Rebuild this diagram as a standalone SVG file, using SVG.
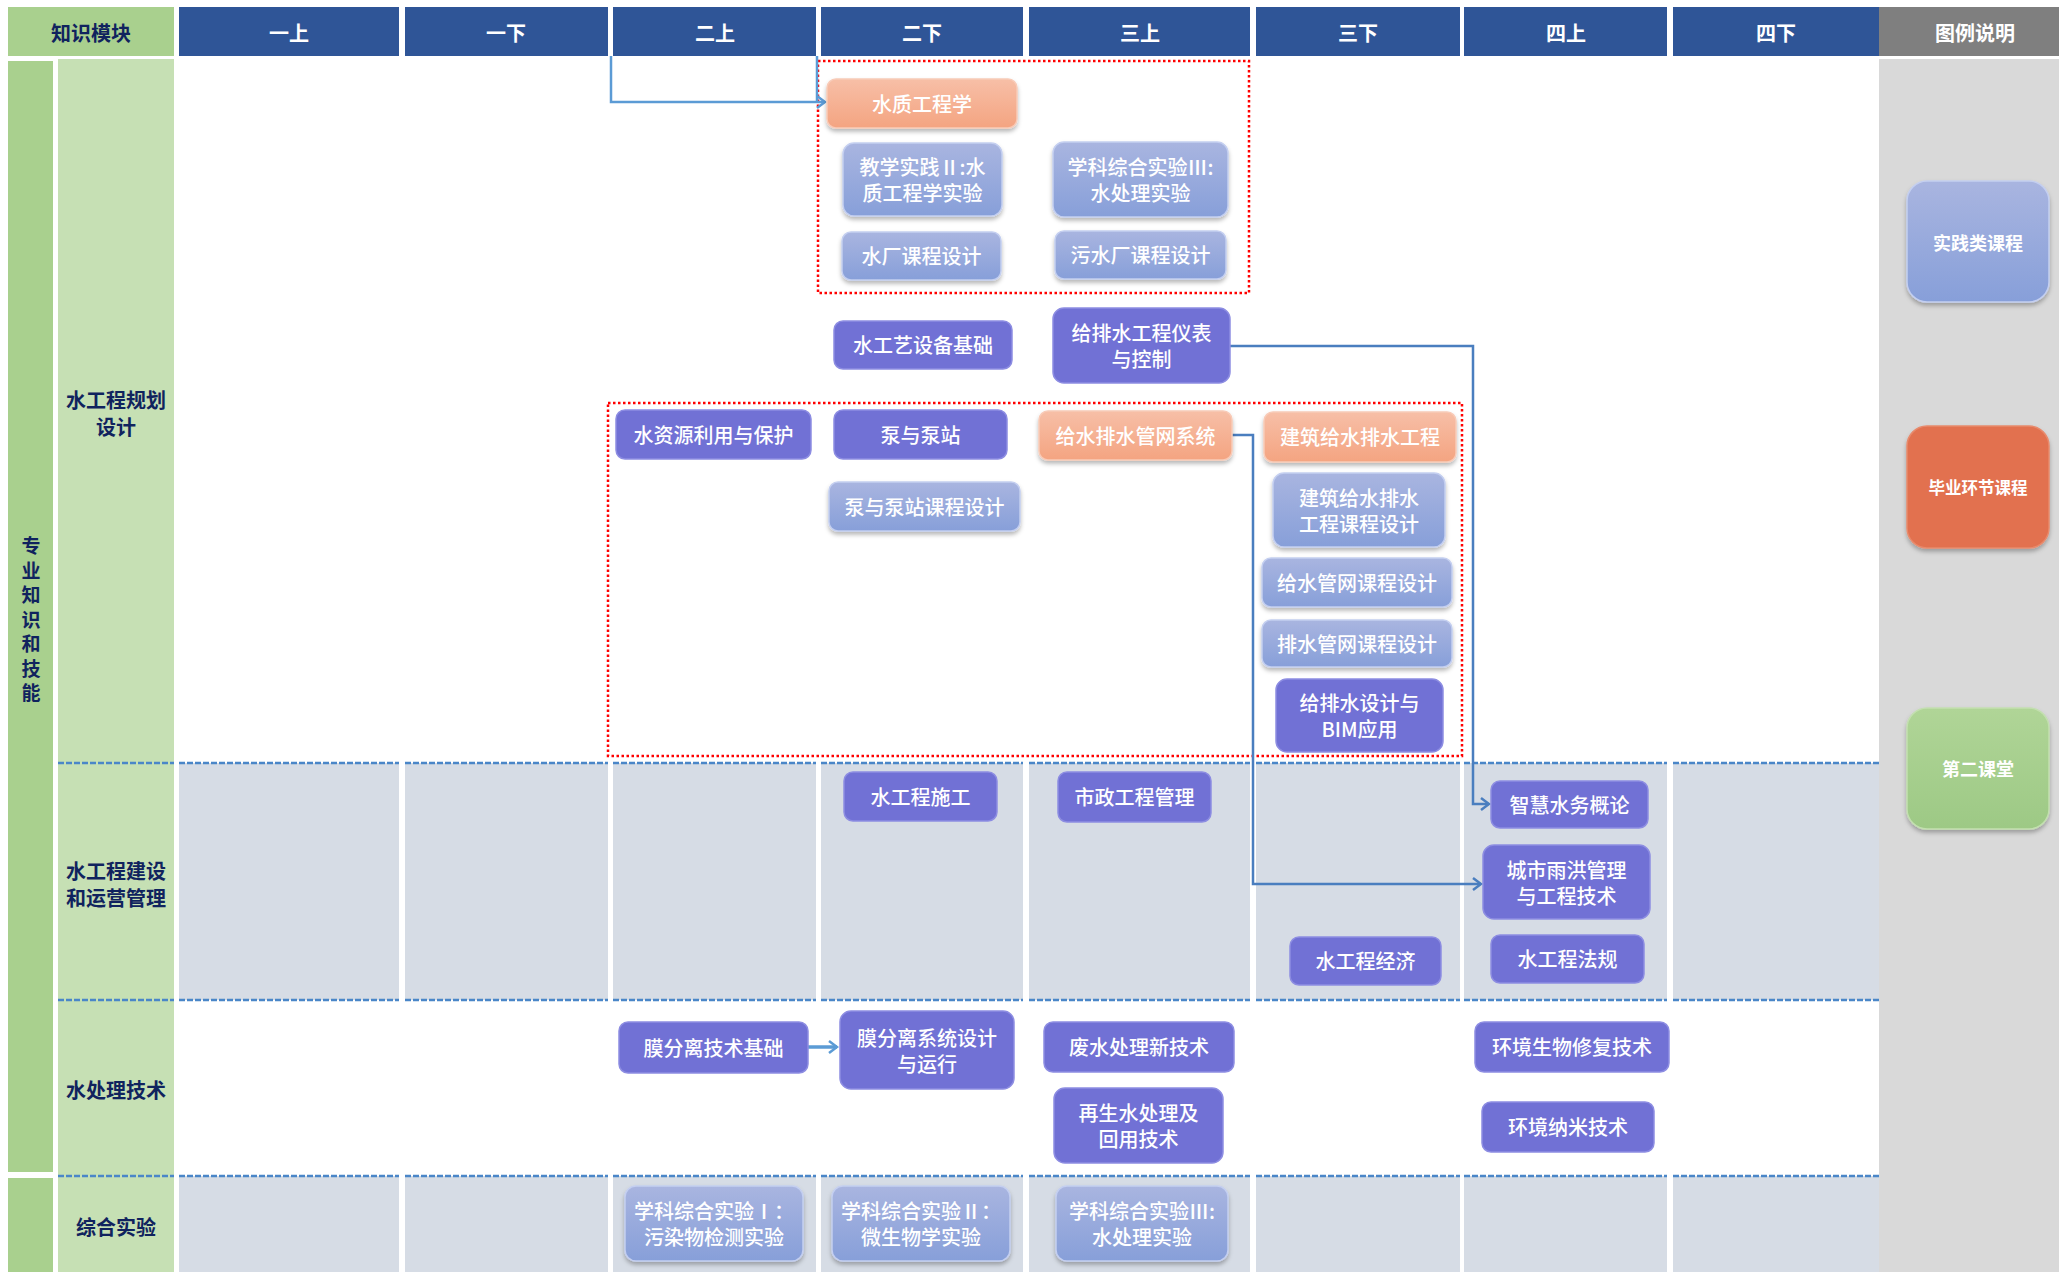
<svg xmlns="http://www.w3.org/2000/svg" width="2059" height="1272" viewBox="0 0 2059 1272">
<defs>
<linearGradient id="gl" x1="0" y1="0" x2="0" y2="1"><stop offset="0" stop-color="#a9b5e0"/><stop offset="1" stop-color="#879fd9"/></linearGradient>
<linearGradient id="gs" x1="0" y1="0" x2="0" y2="1"><stop offset="0" stop-color="#f7bfa7"/><stop offset="1" stop-color="#f4a481"/></linearGradient>
<linearGradient id="gg" x1="0" y1="0" x2="0" y2="1"><stop offset="0" stop-color="#b0d597"/><stop offset="1" stop-color="#9dc985"/></linearGradient>
<filter id="sh" x="-10%" y="-10%" width="120%" height="130%"><feDropShadow dx="0" dy="3" stdDeviation="2" flood-color="#000" flood-opacity="0.28"/></filter>
<marker id="a1" markerWidth="12" markerHeight="14" refX="10" refY="7" orient="auto" markerUnits="userSpaceOnUse"><path d="M2,1 L10,7 L2,13" fill="none" stroke="#5b9bd5" stroke-width="2.5"/></marker>
<marker id="a2" markerWidth="12" markerHeight="14" refX="10" refY="7" orient="auto" markerUnits="userSpaceOnUse"><path d="M2,1 L10,7 L2,13" fill="none" stroke="#4a7ebf" stroke-width="2.5"/></marker>
</defs>
<style>
text{font-family:"Noto Sans CJK SC","Noto Sans",sans-serif;text-anchor:middle;dominant-baseline:central}
.hd{fill:#2f5597}
.ht{font-size:20px;font-weight:bold;fill:#fff}
.lt{font-size:20px;font-weight:bold;fill:#10235e}
.gc{fill:#d6dce5}
.dl{stroke:#4a86c8;stroke-width:2.5;stroke-dasharray:6 2;fill:none}
.rb{fill:none;stroke:#ff0000;stroke-width:2.5;stroke-dasharray:2.5 2.5}
.node text{font-size:20px;font-weight:500;fill:#fff}
.p rect{fill:#7171d5;stroke:#8d8de2;stroke-width:1.5}
.l rect{fill:url(#gl);stroke:#c4cff0;stroke-width:1.5;filter:url(#sh)}
.s rect{fill:url(#gs);stroke:#f8cbb8;stroke-width:1.5;filter:url(#sh)}
.lg text{font-size:18px;font-weight:bold;fill:#fff}
.c1{fill:none;stroke:#5b9bd5;stroke-width:2.5}
.c2{fill:none;stroke:#4a7ebf;stroke-width:2.5}
</style>
<rect width="2059" height="1272" fill="#fff"/>
<g id="grid">
<rect x="8" y="7" width="166" height="49" fill="#a9d08e"/>
<text class="lt" x="91" y="32">知识模块</text>
<rect class="hd" x="179" y="7" width="220" height="49"/><text class="ht" x="289" y="32">一上</text>
<rect class="hd" x="405" y="7" width="203" height="49"/><text class="ht" x="506" y="32">一下</text>
<rect class="hd" x="613" y="7" width="203" height="49"/><text class="ht" x="715" y="32">二上</text>
<rect class="hd" x="821" y="7" width="202" height="49"/><text class="ht" x="922" y="32">二下</text>
<rect class="hd" x="1029" y="7" width="221" height="49"/><text class="ht" x="1140" y="32">三上</text>
<rect class="hd" x="1256" y="7" width="204" height="49"/><text class="ht" x="1358" y="32">三下</text>
<rect class="hd" x="1464" y="7" width="203" height="49"/><text class="ht" x="1566" y="32">四上</text>
<rect class="hd" x="1673" y="7" width="206" height="49"/><text class="ht" x="1776" y="32">四下</text>
<rect x="1879" y="7" width="180" height="49" fill="#7f7f7f"/><text class="ht" x="1975" y="32">图例说明</text>
<rect x="8" y="61" width="45" height="1111" fill="#a9d08e"/>
<rect x="8" y="1178" width="45" height="94" fill="#a9d08e"/>
<rect x="58" y="59" width="116" height="1213" fill="#c6e0b4"/>
<rect x="1879" y="59" width="180" height="1213" fill="#d9d9d9"/>
<rect class="gc" x="179" y="763" width="220" height="237"/><rect class="gc" x="405" y="763" width="203" height="237"/><rect class="gc" x="613" y="763" width="203" height="237"/><rect class="gc" x="821" y="763" width="202" height="237"/><rect class="gc" x="1029" y="763" width="221" height="237"/><rect class="gc" x="1256" y="763" width="204" height="237"/><rect class="gc" x="1464" y="763" width="203" height="237"/><rect class="gc" x="1673" y="763" width="206" height="237"/>
<rect class="gc" x="179" y="1176" width="220" height="96"/><rect class="gc" x="405" y="1176" width="203" height="96"/><rect class="gc" x="613" y="1176" width="203" height="96"/><rect class="gc" x="821" y="1176" width="202" height="96"/><rect class="gc" x="1029" y="1176" width="221" height="96"/><rect class="gc" x="1256" y="1176" width="204" height="96"/><rect class="gc" x="1464" y="1176" width="203" height="96"/><rect class="gc" x="1673" y="1176" width="206" height="96"/>
<path class="dl" d="M58,763H174M179,763H399M405,763H608M613,763H816M821,763H1023M1029,763H1250M1256,763H1460M1464,763H1667M1673,763H1879"/>
<path class="dl" d="M58,1000H174M179,1000H399M405,1000H608M613,1000H816M821,1000H1023M1029,1000H1250M1256,1000H1460M1464,1000H1667M1673,1000H1879"/>
<path class="dl" d="M58,1176H174M179,1176H399M405,1176H608M613,1176H816M821,1176H1023M1029,1176H1250M1256,1176H1460M1464,1176H1667M1673,1176H1879"/>
<text class="lt" style="font-size:19px"><tspan x="31" y="544">专</tspan><tspan x="31" y="569">业</tspan><tspan x="31" y="593">知</tspan><tspan x="31" y="618">识</tspan><tspan x="31" y="642">和</tspan><tspan x="31" y="667">技</tspan><tspan x="31" y="691">能</tspan></text>
<text class="lt"><tspan x="116" y="399">水工程规划</tspan><tspan x="116" y="426">设计</tspan></text>
<text class="lt"><tspan x="116" y="870">水工程建设</tspan><tspan x="116" y="897">和运营管理</tspan></text>
<text class="lt" x="116" y="1089">水处理技术</text>
<text class="lt" x="116" y="1226">综合实验</text>
<rect class="rb" x="818" y="61" width="431" height="232"/>
<rect class="rb" x="608" y="403" width="854" height="353"/>
</g>
<g id="connectors">
<path class="c1" d="M611,56V102H825" marker-end="url(#a1)"/>
<path class="c1" d="M817,56V102"/>
<path class="c2" d="M1230,346H1473V804H1489" marker-end="url(#a2)"/>
<path class="c2" d="M1232,435H1253V884H1481" marker-end="url(#a2)"/>
<path class="c1" style="stroke-width:3.5" d="M808,1047H837" marker-end="url(#a1)"/>
</g>
<g id="n1" class="node s"><rect x="827" y="79" width="190" height="49" rx="9"/><text x="922" y="103">水质工程学</text></g>
<g id="n2" class="node l"><rect x="843" y="143" width="159" height="73" rx="11"/><text><tspan x="922.5" y="166">教学实践Ⅱ:水</tspan><tspan x="922.5" y="192">质工程学实验</tspan></text></g>
<g id="n3" class="node l"><rect x="1053" y="142" width="175" height="75" rx="11"/><text><tspan x="1140.5" y="166">学科综合实验Ⅲ:</tspan><tspan x="1140.5" y="192">水处理实验</tspan></text></g>
<g id="n4" class="node l"><rect x="842" y="232" width="159" height="48" rx="9"/><text x="921.5" y="255.5">水厂课程设计</text></g>
<g id="n5" class="node l"><rect x="1055" y="231" width="171" height="48" rx="9"/><text x="1140.5" y="254.5">污水厂课程设计</text></g>
<g id="n6" class="node p"><rect x="834" y="321" width="178" height="48" rx="9"/><text x="923" y="344.5">水工艺设备基础</text></g>
<g id="n7" class="node p"><rect x="1053" y="308" width="177" height="75" rx="11"/><text><tspan x="1141.5" y="332">给排水工程仪表</tspan><tspan x="1141.5" y="358">与控制</tspan></text></g>
<g id="n8" class="node p"><rect x="616" y="410" width="195" height="49" rx="9"/><text x="713.5" y="434">水资源利用与保护</text></g>
<g id="n9" class="node p"><rect x="834" y="410" width="173" height="49" rx="9"/><text x="920.5" y="434">泵与泵站</text></g>
<g id="n10" class="node s"><rect x="1039" y="411" width="193" height="49" rx="9"/><text x="1135.5" y="435">给水排水管网系统</text></g>
<g id="n11" class="node s"><rect x="1264" y="412" width="192" height="50" rx="9"/><text x="1360" y="436.5">建筑给水排水工程</text></g>
<g id="n12" class="node l"><rect x="829" y="482" width="191" height="49" rx="9"/><text x="924.5" y="506">泵与泵站课程设计</text></g>
<g id="n13" class="node l"><rect x="1273" y="473" width="172" height="74" rx="11"/><text><tspan x="1359" y="496.5">建筑给水排水</tspan><tspan x="1359" y="522.5">工程课程设计</tspan></text></g>
<g id="n14" class="node l"><rect x="1262" y="558" width="190" height="49" rx="9"/><text x="1357" y="582">给水管网课程设计</text></g>
<g id="n15" class="node l"><rect x="1262" y="620" width="190" height="47" rx="9"/><text x="1357" y="643">排水管网课程设计</text></g>
<g id="n16" class="node p"><rect x="1276" y="679" width="167" height="73" rx="11"/><text><tspan x="1359.5" y="702">给排水设计与</tspan><tspan x="1359.5" y="728">BIM应用</tspan></text></g>
<g id="n17" class="node p"><rect x="844" y="772" width="153" height="49" rx="9"/><text x="920.5" y="796">水工程施工</text></g>
<g id="n18" class="node p"><rect x="1058" y="772" width="153" height="50" rx="9"/><text x="1134.5" y="796.5">市政工程管理</text></g>
<g id="n19" class="node p"><rect x="1491" y="781" width="157" height="47" rx="9"/><text x="1569.5" y="804">智慧水务概论</text></g>
<g id="n20" class="node p"><rect x="1483" y="845" width="167" height="74" rx="11"/><text><tspan x="1566.5" y="868.5">城市雨洪管理</tspan><tspan x="1566.5" y="894.5">与工程技术</tspan></text></g>
<g id="n21" class="node p"><rect x="1290" y="937" width="151" height="48" rx="9"/><text x="1365.5" y="960.5">水工程经济</text></g>
<g id="n22" class="node p"><rect x="1491" y="935" width="153" height="48" rx="9"/><text x="1567.5" y="958.5">水工程法规</text></g>
<g id="n23" class="node p"><rect x="619" y="1022" width="189" height="51" rx="9"/><text x="713.5" y="1047">膜分离技术基础</text></g>
<g id="n24" class="node p"><rect x="840" y="1011" width="174" height="78" rx="11"/><text><tspan x="927" y="1036.5">膜分离系统设计</tspan><tspan x="927" y="1062.5">与运行</tspan></text></g>
<g id="n25" class="node p"><rect x="1044" y="1022" width="190" height="50" rx="9"/><text x="1139" y="1046.5">废水处理新技术</text></g>
<g id="n26" class="node p"><rect x="1475" y="1022" width="194" height="50" rx="9"/><text x="1572" y="1046.5">环境生物修复技术</text></g>
<g id="n27" class="node p"><rect x="1054" y="1088" width="169" height="75" rx="11"/><text><tspan x="1138.5" y="1112">再生水处理及</tspan><tspan x="1138.5" y="1138">回用技术</tspan></text></g>
<g id="n28" class="node p"><rect x="1482" y="1102" width="172" height="50" rx="9"/><text x="1568" y="1126.5">环境纳米技术</text></g>
<g id="n29" class="node l"><rect x="625" y="1186" width="178" height="75" rx="11"/><text><tspan x="714" y="1210">学科综合实验Ⅰ：</tspan><tspan x="714" y="1236">污染物检测实验</tspan></text></g>
<g id="n30" class="node l"><rect x="832" y="1186" width="178" height="75" rx="11"/><text><tspan x="921" y="1210">学科综合实验Ⅱ：</tspan><tspan x="921" y="1236">微生物学实验</tspan></text></g>
<g id="n31" class="node l"><rect x="1056" y="1186" width="172" height="75" rx="11"/><text><tspan x="1142" y="1210">学科综合实验Ⅲ:</tspan><tspan x="1142" y="1236">水处理实验</tspan></text></g>
<g id="legend1" class="lg"><rect x="1907" y="181" width="142" height="121" rx="20" fill="url(#gl)" stroke="#c4cff0" stroke-width="1.5" filter="url(#sh)"/><text x="1978" y="241.5">实践类课程</text></g>
<g id="legend2" class="lg"><rect x="1907" y="426" width="142" height="122" rx="20" fill="#e2714f" stroke="#e88a6c" stroke-width="1.5" filter="url(#sh)"/><text x="1978" y="487" style="font-size:16.5px">毕业环节课程</text></g>
<g id="legend3" class="lg"><rect x="1907" y="708" width="142" height="121" rx="20" fill="url(#gg)" stroke="#c3dfb0" stroke-width="1.5" filter="url(#sh)"/><text x="1978" y="768">第二课堂</text></g>
</svg>
